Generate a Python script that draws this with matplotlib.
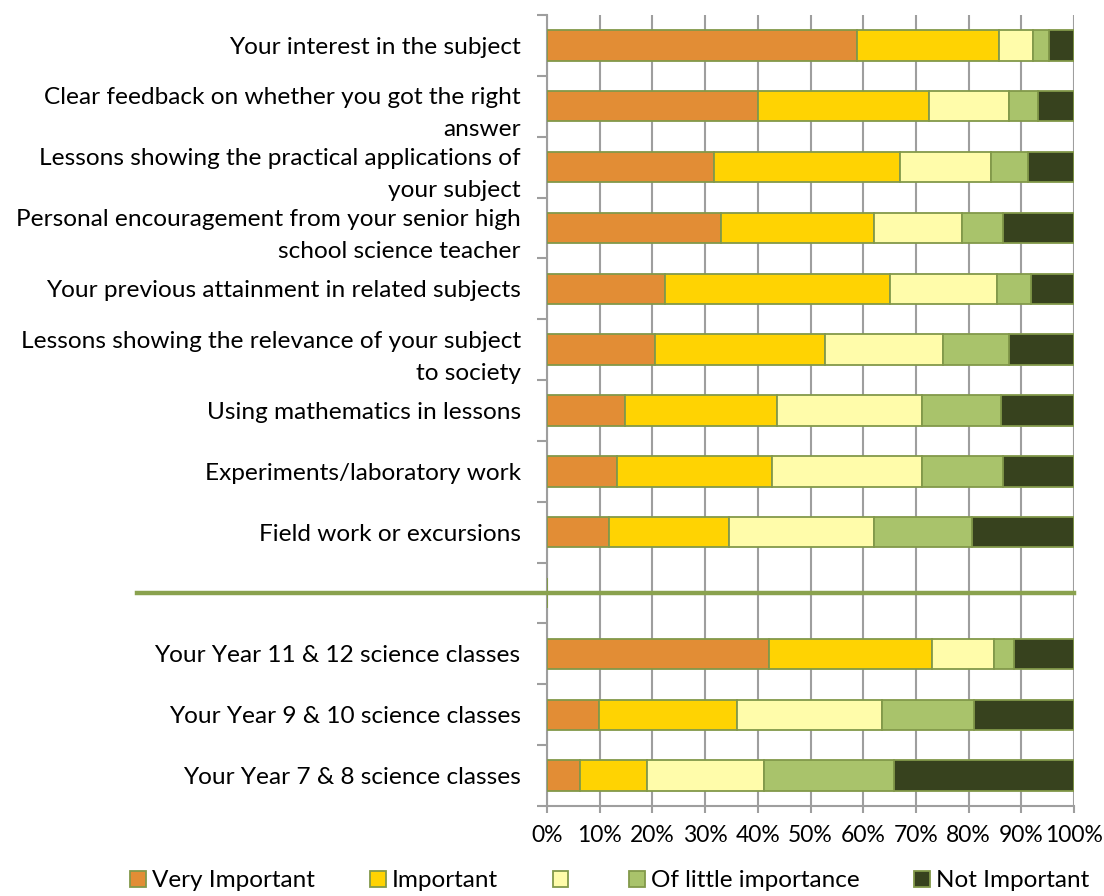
import matplotlib.pyplot as plt
import numpy as np

plt.rcParams['font.family'] = ['Lato', 'DejaVu Sans']

# Categories from top to bottom ('' is the empty spacer row)
categories = [
    'Your interest in the subject',
    'Clear feedback on whether you got the right\nanswer',
    'Lessons showing the practical applications of\nyour subject',
    'Personal encouragement from your senior high\nschool science teacher',
    'Your previous attainment in related subjects',
    'Lessons showing the relevance of your subject\nto society',
    'Using mathematics in lessons',
    'Experiments/laboratory work',
    'Field work or excursions',
    '',
    'Your Year 11 & 12 science classes',
    'Your Year 9 & 10 science classes',
    'Your Year 7 & 8 science classes',
]

series_names = ['Very Important', 'Important', '', 'Of little importance', 'Not Important']

very_important = [58.9, 40.1, 31.6, 33.1, 22.4, 20.4, 14.8, 13.3, 11.7, 0, 42.2, 9.8, 6.2]
important = [26.8, 32.4, 35.4, 28.9, 42.6, 32.4, 28.9, 29.4, 22.9, 0, 30.9, 26.3, 12.8]
neutral = [6.6, 15.2, 17.3, 16.7, 20.3, 22.4, 27.4, 28.4, 27.4, 0, 11.8, 27.4, 22.2]
little = [2.9, 5.4, 6.9, 7.9, 6.5, 12.5, 15.1, 15.5, 18.6, 0, 3.8, 17.5, 24.7]
not_important = [4.8, 6.9, 8.8, 13.4, 8.2, 12.3, 13.8, 13.4, 19.4, 0, 11.3, 19.0, 34.1]

colors = ['#E28D35', '#FFD302', '#FFFCAA', '#A9C36B', '#37421E']
edge = '#82994A'
grid_gray = '#9E9E9E'

fig = plt.figure(figsize=(11.04, 8.96), dpi=100)
ax = fig.add_axes([0.4955, 0.1004, 0.4773, 0.8829])

y = np.arange(len(categories))
left = np.zeros(len(categories))
data = [very_important, important, neutral, little, not_important]
handles = []
for vals, c, name in zip(data, colors, series_names):
    vals = np.array(vals)
    b = ax.barh(y, vals, left=left, height=0.5, color=c, edgecolor=edge,
                linewidth=1.3, zorder=3)
    handles.append(b)
    left = left + vals

ax.set_xlim(0, 100)
ax.set_ylim(len(categories) - 0.5, -0.5)

# category labels at the centres, tick marks at the boundaries
ax.set_yticks(y)
ax.set_yticklabels(categories, fontsize=17.6, linespacing=1.65)
ax.tick_params(axis='y', which='major', length=0, pad=19)
ax.set_yticks(np.arange(-0.5, len(categories), 1), minor=True)
ax.tick_params(axis='y', which='minor', length=7, width=1.5, color=grid_gray)

ax.set_xticks(np.arange(0, 101, 10))
ax.set_xticklabels([f'{v}%' for v in range(0, 101, 10)], fontsize=16.5)
ax.tick_params(axis='x', length=5, width=1.5, color=grid_gray, pad=9)

ax.grid(axis='x', color=grid_gray, linewidth=1.5, zorder=0)
ax.set_axisbelow(True)
for side in ['top', 'right']:
    ax.spines[side].set_visible(False)
for side in ['left', 'bottom']:
    ax.spines[side].set_color(grid_gray)
    ax.spines[side].set_linewidth(1.5)

# separator between the two groups
ax.axhline(9, xmin=-0.778, xmax=1.0, color='#8AA24E', linewidth=3.2,
           clip_on=False, zorder=4)

leg = fig.legend(handles, series_names, loc='center', ncol=5,
                 bbox_to_anchor=(0.5525, 0.017), frameon=False, fontsize=17.5,
                 handlelength=0.65, handleheight=0.65, handletextpad=0.25,
                 columnspacing=2.25)

fig.savefig('out.png', dpi=100)
